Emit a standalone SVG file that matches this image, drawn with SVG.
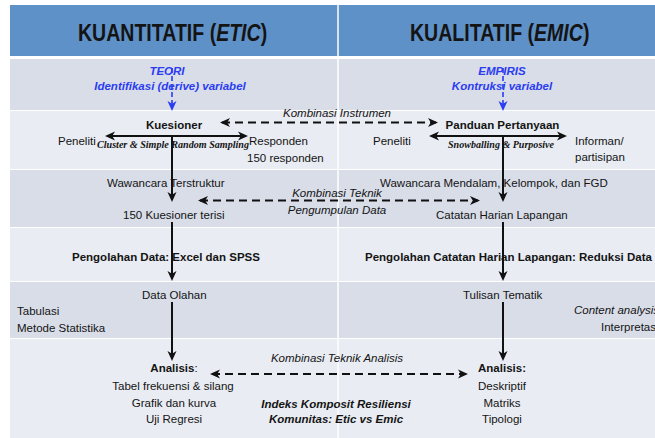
<svg xmlns="http://www.w3.org/2000/svg" width="655" height="438" viewBox="0 0 655 438">
  <style>
    text { font-family: "Liberation Sans", Arial, sans-serif; font-size: 11.5px; fill: #141414; }
    .hdr { font-size: 23px; font-weight: bold; }
    .b { font-weight: bold; }
    .i { font-style: italic; }
    .bi { font-weight: bold; font-style: italic; }
    .blue { fill: #2b3cf2; font-weight: bold; font-style: italic; }
    .serif { font-family: "Liberation Serif", "Times New Roman", serif; font-size: 10px; font-weight: bold; font-style: italic; }
    .c { text-anchor: middle; }
    .dark { fill: #d8dde8; }
    .light { fill: #e9ecf2; }
    .solid { stroke: #111; stroke-width: 2; fill: none; }
    .dash { stroke: #111; stroke-width: 2; fill: none; stroke-dasharray: 8 5; }
    .bdash { stroke: #2b3cf2; stroke-width: 1.6; fill: none; stroke-dasharray: 5 3; }
  </style>
  <defs>
    <marker id="ah" viewBox="0 0 10 10" refX="8" refY="5" markerWidth="10" markerHeight="10" markerUnits="userSpaceOnUse" orient="auto-start-reverse">
      <path d="M0,0.5 L10,5 L0,9.5 L2.8,5 z" fill="#111"/>
    </marker>
    <marker id="bh" viewBox="0 0 10 10" refX="8" refY="5" markerWidth="10" markerHeight="10" markerUnits="userSpaceOnUse" orient="auto">
      <path d="M0,0.5 L10,5 L0,9.5 L2.8,5 z" fill="#2b3cf2"/>
    </marker>
  </defs>

  <rect x="0" y="0" width="655" height="438" fill="#ffffff"/>

  <g id="table">
    <rect x="10" y="5" width="660" height="51" fill="#5e91c8"/>
    <rect class="dark" x="10" y="59" width="660" height="51"/>
    <rect class="light" x="10" y="111" width="660" height="58"/>
    <rect class="dark" x="10" y="170" width="660" height="57"/>
    <rect class="light" x="10" y="228" width="660" height="53"/>
    <rect class="dark" x="10" y="282" width="660" height="56"/>
    <rect class="light" x="10" y="339" width="660" height="99"/>
    <line x1="338" y1="5" x2="338" y2="438" stroke="#ffffff" stroke-width="1.5"/>
  </g>

  <g id="headers">
    <text class="hdr" transform="translate(78,41) scale(0.85,1)" x="0" y="0">KUANTITATIF (<tspan font-style="italic">ETIC</tspan>)</text>
    <text class="hdr" transform="translate(410,41) scale(0.85,1)" x="0" y="0">KUALITATIF (<tspan font-style="italic">EMIC</tspan>)</text>
  </g>

  <g id="connectors">
    <line class="bdash" x1="172" y1="68" x2="172" y2="109" marker-end="url(#bh)"/>
    <line class="bdash" x1="503" y1="68" x2="503" y2="109" marker-end="url(#bh)"/>
    <line class="solid" x1="107" y1="136" x2="246" y2="136" marker-start="url(#ah)" marker-end="url(#ah)"/>
    <line class="solid" x1="431" y1="136" x2="565" y2="136" marker-start="url(#ah)" marker-end="url(#ah)"/>
    <line class="solid" x1="172" y1="136" x2="172" y2="200"  marker-end="url(#ah)"/>
    <line class="solid" x1="503" y1="136" x2="503" y2="200" marker-end="url(#ah)"/>
    <line class="solid" x1="172" y1="222" x2="172" y2="279" marker-end="url(#ah)"/>
    <line class="solid" x1="503" y1="222" x2="503" y2="279" marker-end="url(#ah)"/>
    <line class="solid" x1="172" y1="302" x2="172" y2="359" marker-end="url(#ah)"/>
    <line class="solid" x1="503" y1="302" x2="503" y2="359" marker-end="url(#ah)"/>
    <line class="dash" x1="222" y1="122.5" x2="436" y2="122.5" marker-start="url(#ah)" marker-end="url(#ah)"/>
    <line class="dash" x1="200" y1="200.5" x2="478" y2="200.5" marker-start="url(#ah)" marker-end="url(#ah)"/>
    <line class="dash" x1="212" y1="374" x2="466" y2="374" marker-start="url(#ah)" marker-end="url(#ah)"/>
  </g>

  <g id="teori">
    <text class="blue c" x="167" y="75">TEORI</text>
    <text class="blue c" x="170" y="90">Identifikasi (derive) variabel</text>
  </g>
  <g id="empiris">
    <text class="blue c" x="502" y="75">EMPIRIS</text>
    <text class="blue c" x="502" y="90">Kontruksi variabel</text>
  </g>

  <g id="kuesioner">
    <text class="b c" x="174" y="129">Kuesioner</text>
    <text x="58" y="145">Peneliti</text>
    <text class="serif" x="97" y="148" textLength="152" lengthAdjust="spacingAndGlyphs">Cluster &amp; Simple Random Sampling</text>
    <text x="249" y="145">Responden</text>
    <text x="247" y="162">150 responden</text>
  </g>
  <g id="panduan">
    <text class="b c" x="502.5" y="129">Panduan Pertanyaan</text>
    <text x="373" y="145">Peneliti</text>
    <text class="serif" x="448" y="148" textLength="106" lengthAdjust="spacingAndGlyphs">Snowballing &amp; Purposive</text>
    <text x="575" y="145">Informan/</text>
    <text x="575" y="161">partisipan</text>
  </g>

  <g id="label-instrumen">
    <text class="i c" x="337" y="117">Kombinasi Instrumen</text>
  </g>

  <g id="kuesioner-terisi">
    <text x="107" y="187">Wawancara Terstruktur</text>
    <text x="123" y="219">150 Kuesioner terisi</text>
  </g>
  <g id="catatan-harian">
    <text x="380" y="187">Wawancara Mendalam, Kelompok, dan FGD</text>
    <text x="436" y="219">Catatan Harian Lapangan</text>
  </g>
  <g id="label-teknik">
    <text class="i c" x="337" y="197">Kombinasi Teknik</text>
    <text class="i c" x="337" y="214">Pengumpulan Data</text>
  </g>

  <g id="pengolahan-data">
    <text class="b" x="72" y="261">Pengolahan Data: Excel dan SPSS</text>
  </g>
  <g id="pengolahan-catatan">
    <text class="b" x="365" y="261">Pengolahan Catatan Harian Lapangan: Reduksi Data</text>
  </g>

  <g id="data-olahan">
    <text x="142" y="299">Data Olahan</text>
    <text x="17" y="315">Tabulasi</text>
    <text x="17" y="332">Metode Statistika</text>
  </g>
  <g id="tulisan-tematik">
    <text x="463" y="299">Tulisan Tematik</text>
    <text class="i" x="574" y="314">Content analysis</text>
    <text x="601" y="331">Interpretasi</text>
  </g>

  <g id="analisis-kuantitatif">
    <text class="c" x="174" y="372"><tspan class="b">Analisis</tspan>:</text>
    <text class="c" x="173" y="390">Tabel frekuensi &amp; silang</text>
    <text class="c" x="174" y="407">Grafik dan kurva</text>
    <text class="c" x="174" y="423">Uji Regresi</text>
  </g>
  <g id="analisis-kualitatif">
    <text class="b c" x="502" y="372">Analisis:</text>
    <text class="c" x="502" y="390">Deskriptif</text>
    <text class="c" x="502" y="407">Matriks</text>
    <text class="c" x="502" y="423">Tipologi</text>
  </g>
  <g id="label-analisis">
    <text class="i c" x="337" y="362">Kombinasi Teknik Analisis</text>
  </g>
  <g id="indeks">
    <text class="bi c" x="336" y="408">Indeks Komposit Resiliensi</text>
    <text class="bi c" x="336" y="423">Komunitas: Etic vs Emic</text>
  </g>
</svg>
